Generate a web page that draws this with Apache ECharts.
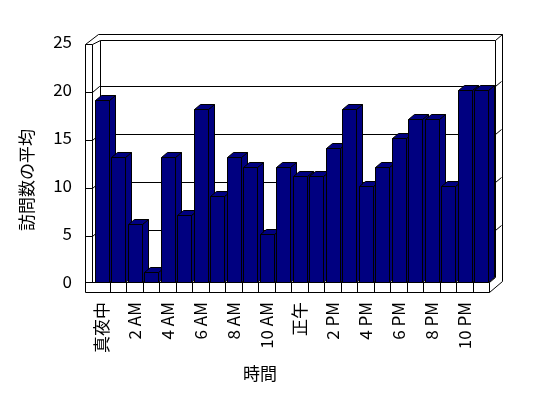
<!DOCTYPE html>
<html>
<head>
<meta charset="utf-8">
<script src="https://cdn.jsdelivr.net/npm/echarts@6/dist/echarts.min.js"></script>
<style>
  html, body { margin: 0; padding: 0; background: #fff; }
  #chart { width: 548px; height: 398px; }
</style>
</head>
<body>
<div id="chart"></div>
<script>
// 時間帯ごとの訪問数の平均
const hours = [
  '真夜中', '1 AM', '2 AM', '3 AM', '4 AM', '5 AM', '6 AM', '7 AM', '8 AM', '9 AM', '10 AM', '11 AM',
  '正午', '1 PM', '2 PM', '3 PM', '4 PM', '5 PM', '6 PM', '7 PM', '8 PM', '9 PM', '10 PM', '11 PM',
]
const visits = [19, 13, 6, 1, 13, 7, 18, 9, 13, 12, 5, 12, 11, 11, 14, 18, 10, 12, 15, 17, 17, 10, 20, 20]
const yTicks = [0, 5, 10, 15, 20, 25]

const font = '"Noto Sans CJK JP", "Noto Sans", sans-serif'
const navy = '#000080'
const p = (v) => Math.round(v) + 0.5 // くっきりした線にする

/* 3D風の壁と床 */
function renderFrame(params, api) {
  const slot = api.size([1, 0])[0]
  const x0 = api.coord([0, 0])[0] - slot / 2
  const x1 = api.coord([hours.length - 1, 0])[0] + slot / 2
  const y0 = api.coord([0, 0])[1]
  const yTop = api.coord([0, yTicks[yTicks.length - 1]])[1]
  const lineStyle = { stroke: '#000', lineWidth: 1, fill: null }
  const line = (pts) => ({
    type: 'polyline',
    shape: { points: pts.map((q) => [p(q[0]), p(q[1])]) },
    style: lineStyle,
  })
  const children = []
  // 背景（白）
  children.push({
    type: 'polygon',
    shape: {
      points: [[x0 - 8, yTop + 2], [x0 + 5, yTop - 8], [x1 + 13, yTop - 8], [x1 + 13, y0 - 1], [x1, y0 + 10], [x0 - 8, y0 + 10]],
    },
    style: { fill: '#fff', stroke: null },
  })
  // 目盛り線
  yTicks.slice(1, -1).forEach((v) => {
    const y = api.coord([0, v])[1]
    children.push(line([[x0 - 8, y + 2], [x0 - 1, y + 2], [x0 + 6, y - 4], [x1 + 6, y - 4], [x1 + 12, y - 9]]))
  })
  // 上端
  children.push(line([[x0 - 8, yTop + 2], [x0 + 5, yTop - 8], [x1 + 13, yTop - 8], [x1 + 13, y0 - 1]]))
  children.push(line([[x0 - 8, yTop + 2], [x0 - 1, yTop + 2], [x0 + 7, yTop - 2], [x1 + 6, yTop - 2], [x1 + 13, yTop - 8]]))
  children.push(line([[x1 + 6, yTop - 2], [x1 + 6, y0 - 5]]))
  // 左の壁
  children.push(line([[x0 - 8, yTop + 2], [x0 - 8, y0 + 10]]))
  children.push(line([[x0 - 1, yTop + 2], [x0 - 1, y0]]))
  children.push(line([[x0 + 7, yTop - 2], [x0 + 7, y0 - 5]]))
  // 床
  children.push(line([[x0 - 8, y0], [x1, y0], [x1 + 6, y0 - 5]]))
  children.push(line([[x0 - 8, y0 + 10], [x1, y0 + 10], [x1 + 13, y0 - 1]]))
  children.push(line([[x1, y0], [x1, y0 + 10]]))
  for (let k = 1; k < hours.length; k++) {
    children.push(line([[x0 + k * slot, y0], [x0 + k * slot, y0 + 10]]))
  }
  return { type: 'group', children: children }
}

/* 3D風の棒 */
function renderBar(params, api) {
  const i = api.value(0)
  const top = api.coord([i, api.value(1)])
  const base = api.coord([i, 0])
  const slot = api.size([1, 0])[0]
  const x = p(top[0] - slot / 2 + 1.5)
  const w = Math.round(slot - 3)
  const yt = p(top[1])
  const yb = p(base[1])
  const dx = 6
  const dy = 5
  const style = { fill: navy, stroke: '#000', lineWidth: 1 }
  return {
    type: 'group',
    children: [
      { type: 'polygon', shape: { points: [[x + w, yt], [x + w + dx, yt - dy], [x + w + dx, yb - dy], [x + w, yb]] }, style: style },
      { type: 'polygon', shape: { points: [[x, yt], [x + w, yt], [x + w + dx, yt - dy], [x + dx, yt - dy]] }, style: style },
      { type: 'rect', shape: { x: x, y: yt, width: w, height: yb - yt }, style: style },
    ],
  }
}

const chart = echarts.init(document.getElementById('chart'))
chart.setOption({
  animation: false,
  backgroundColor: '#fff',
  textStyle: { fontFamily: font },
  grid: { left: 93, right: 59, top: 42, bottom: 116 },
  xAxis: {
    type: 'category',
    data: hours,
    axisLine: { show: false },
    axisTick: { show: false },
    axisLabel: { interval: 1, rotate: 90, margin: 20, fontSize: 17, color: '#000', fontFamily: font },
  },
  yAxis: {
    type: 'value',
    min: 0,
    max: 25,
    interval: 5,
    axisLine: { show: false },
    axisTick: { show: false },
    splitLine: { show: false },
    axisLabel: { margin: 21, fontSize: 17, color: '#000', fontFamily: font, padding: [2, 0, 0, 0] },
  },
  graphic: [
    {
      type: 'text',
      x: 27,
      y: 180,
      rotation: Math.PI / 2,
      style: { text: '訪問数の平均', font: '17px ' + font, fill: '#000', align: 'center', verticalAlign: 'middle' },
    },
    {
      type: 'text',
      x: 260,
      y: 374,
      style: { text: '時間', font: '17px ' + font, fill: '#000', align: 'center', verticalAlign: 'middle' },
    },
  ],
  series: [
    {
      type: 'custom',
      z: 1,
      renderItem: renderFrame,
      data: [[0, 0]],
      silent: true,
    },
    {
      type: 'custom',
      z: 2,
      renderItem: renderBar,
      data: visits.map((v, i) => [i, v]),
    },
  ],
})
</script>
</body>
</html>
